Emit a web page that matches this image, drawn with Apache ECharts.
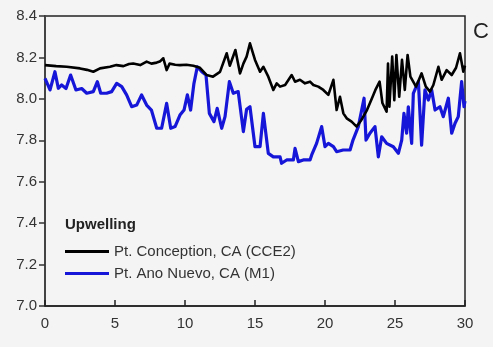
<!DOCTYPE html>
<html>
<head>
<meta charset="utf-8">
<script src="https://cdn.jsdelivr.net/npm/echarts@6/dist/echarts.min.js"></script>
<style>
html,body{margin:0;padding:0;background:#f4f4f4;}
#chart{width:493px;height:347px;}
</style>
</head>
<body>
<div id="chart"></div>
<script>
// Pt. Conception, CA (CCE2) — black
const conceptionX = [0, 0.8, 1.55, 2.5, 3.0, 3.45, 3.93, 4.64, 5.1, 5.6, 6.0, 6.3, 6.8, 7.26, 7.6, 7.98, 8.2, 8.45, 8.69, 8.9, 9.3, 9.64, 10.1, 10.6, 11.07, 11.55, 12.0, 12.5, 12.98, 13.2, 13.6, 13.93, 14.17, 14.4, 14.64, 15.0, 15.36, 15.6, 15.95, 16.31, 16.55, 16.79, 17.15, 17.62, 17.86, 18.21, 18.57, 18.93, 19.17, 19.52, 19.88, 20.24, 20.6, 20.83, 21.07, 21.31, 21.55, 21.9, 22.26, 22.6, 23.0, 23.4, 23.6, 23.9, 24.1, 24.4, 24.5, 24.6, 24.8, 24.95, 25.1, 25.3, 25.5, 25.7, 25.9, 26.1, 26.5, 26.9, 27.2, 27.5, 27.74, 28.1, 28.33, 28.69, 29.05, 29.36, 29.64, 29.88, 30.0];
const conceptionY = [8.163, 8.158, 8.155, 8.147, 8.14, 8.131, 8.147, 8.155, 8.163, 8.158, 8.168, 8.171, 8.163, 8.18, 8.17, 8.175, 8.18, 8.196, 8.139, 8.17, 8.165, 8.163, 8.165, 8.16, 8.15, 8.115, 8.107, 8.13, 8.22, 8.16, 8.236, 8.123, 8.17, 8.204, 8.268, 8.188, 8.131, 8.155, 8.107, 8.043, 8.075, 8.059, 8.067, 8.115, 8.083, 8.092, 8.075, 8.083, 8.067, 8.059, 8.043, 8.019, 8.092, 7.946, 8.01, 7.93, 7.906, 7.89, 7.866, 7.898, 7.946, 8.01, 8.043, 8.083, 7.98, 7.938, 8.17, 7.962, 8.204, 7.994, 8.212, 8.01, 8.188, 8.043, 8.212, 8.107, 8.059, 8.123, 8.059, 8.035, 8.067, 8.155, 8.092, 8.139, 8.115, 8.15, 8.22, 8.131, 8.16];

// Pt. Ano Nuevo, CA (M1) — blue
const anoNuevoX = [0, 0.36, 0.71, 0.95, 1.19, 1.5, 1.83, 2.21, 2.62, 2.98, 3.45, 3.74, 3.98, 4.4, 4.76, 5.12, 5.48, 5.83, 6.19, 6.55, 6.9, 7.26, 7.6, 7.98, 8.33, 8.69, 8.98, 9.29, 9.64, 9.93, 10.17, 10.4, 10.64, 10.88, 11.2, 11.5, 11.74, 12.07, 12.3, 12.62, 12.86, 13.17, 13.45, 13.8, 14.17, 14.4, 14.64, 15.0, 15.36, 15.6, 15.95, 16.31, 16.79, 16.9, 17.26, 17.74, 17.86, 18.1, 18.45, 18.93, 19.05, 19.4, 19.76, 20.0, 20.24, 20.6, 20.83, 21.3, 21.79, 22.0, 22.38, 22.62, 22.79, 22.93, 23.21, 23.57, 23.81, 24.05, 24.4, 24.88, 25.24, 25.48, 25.64, 25.83, 25.95, 26.19, 26.31, 26.67, 26.9, 27.14, 27.38, 27.62, 27.86, 28.21, 28.45, 28.81, 29.05, 29.29, 29.52, 29.76, 29.93, 30.0];
const anoNuevoY = [8.099, 8.043, 8.131, 8.051, 8.067, 8.05, 8.115, 8.043, 8.05, 8.027, 8.035, 8.083, 8.027, 8.027, 8.035, 8.075, 8.059, 8.019, 7.962, 7.97, 8.019, 7.97, 7.946, 7.858, 7.858, 7.978, 7.858, 7.866, 7.922, 7.946, 8.019, 7.946, 8.075, 8.155, 8.131, 8.115, 7.93, 7.89, 7.954, 7.858, 7.914, 8.083, 8.027, 8.035, 7.842, 7.95, 7.962, 7.769, 7.769, 7.93, 7.737, 7.72, 7.72, 7.689, 7.705, 7.705, 7.761, 7.697, 7.705, 7.705, 7.729, 7.785, 7.866, 7.769, 7.785, 7.769, 7.745, 7.753, 7.753, 7.801, 7.866, 7.946, 8.003, 7.801, 7.834, 7.866, 7.72, 7.817, 7.785, 7.769, 7.737, 7.801, 7.93, 7.834, 7.962, 7.785, 8.027, 8.083, 7.777, 8.043, 7.994, 8.043, 7.946, 7.962, 7.914, 8.003, 7.834, 7.882, 7.914, 8.083, 7.962, 7.99];

const xTicks = [0, 5, 10, 15, 20, 25, 30];
const yTicks = [7.0, 7.2, 7.4, 7.6, 7.8, 8.0, 8.2, 8.4];

const zip = (xs, ys) => xs.map((x, i) => [x, ys[i]]);

const chart = echarts.init(document.getElementById('chart'), null, {renderer: 'canvas'});
const font = 'Liberation Sans, Arial, sans-serif';
chart.setOption({
  backgroundColor: '#f4f4f4',
  animation: false,
  grid: {left: 45, right: 28, top: 16, bottom: 41, show: true, borderColor: '#222', borderWidth: 1.5, backgroundColor: 'transparent'},
  xAxis: {
    type: 'value', min: xTicks[0], max: xTicks[xTicks.length - 1], interval: 5,
    axisLine: {show: true, onZero: false, lineStyle: {color: '#222', width: 1.5}},
    axisTick: {show: true, inside: true, length: 6, lineStyle: {color: '#222', width: 1.5}},
    axisLabel: {color: '#333', fontSize: 15, fontFamily: font, margin: 10},
    splitLine: {show: false}
  },
  yAxis: {
    type: 'value', min: yTicks[0], max: yTicks[yTicks.length - 1], interval: 0.2,
    axisLine: {show: true, onZero: false, lineStyle: {color: '#444', width: 2}},
    axisTick: {show: true, inside: false, length: 6, lineStyle: {color: '#333', width: 1.5}},
    axisLabel: {color: '#333', fontSize: 15, fontFamily: font, margin: 8, formatter: v => v.toFixed(1)},
    splitLine: {show: false}
  },
  legend: {
    orient: 'vertical', left: 60, top: 239, itemWidth: 44, itemHeight: 3, itemGap: 7,
    icon: 'rect',
    textStyle: {color: '#333', fontSize: 15, fontFamily: font},
    data: ['Pt. Conception, CA (CCE2)', 'Pt. Ano Nuevo, CA (M1)']
  },
  graphic: [
    {type: 'text', left: 65, top: 217, style: {text: 'Upwelling', font: 'bold 15px ' + font, fill: '#222'}},
    {type: 'text', left: 473, top: 21, style: {text: 'C', font: '22px ' + font, fill: '#222'}}
  ],
  series: [
    {name: 'Pt. Conception, CA (CCE2)', type: 'line', data: zip(conceptionX, conceptionY), showSymbol: false, symbol: 'none',
     lineStyle: {color: '#000', width: 2.6, join: 'round'}, itemStyle: {color: '#000'}, z: 3},
    {name: 'Pt. Ano Nuevo, CA (M1)', type: 'line', data: zip(anoNuevoX, anoNuevoY), showSymbol: false, symbol: 'none',
     lineStyle: {color: '#1616d8', width: 3.2, join: 'round'}, itemStyle: {color: '#1616d8'}, z: 2}
  ]
});
</script>
</body>
</html>
